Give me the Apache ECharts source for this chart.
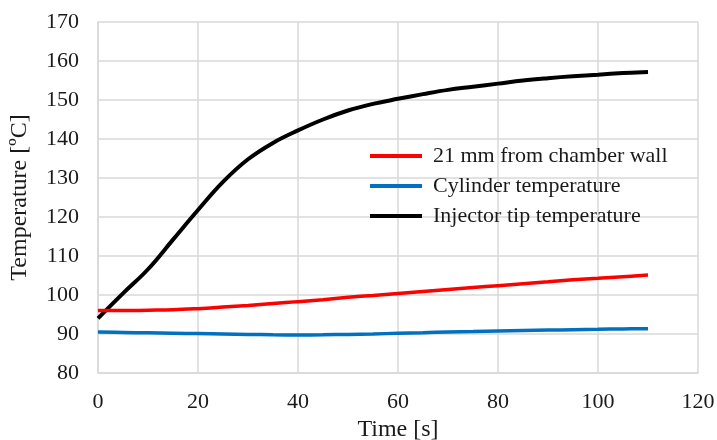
<!DOCTYPE html>
<html>
<head>
<meta charset="utf-8">
<script src="https://cdn.jsdelivr.net/npm/echarts@6/dist/echarts.min.js"></script>
<style>
html,body{margin:0;padding:0;background:#fff;}
#chart{width:717px;height:440px;}
</style>
</head>
<body>
<div id="chart"></div>
<script>
const time = [0,5,10,15,20,25,30,35,40,45,50,55,60,65,70,75,80,85,90,95,100,105,110];
const wall21 = [96,96,96.1,96.2,96.5,96.9,97.3,97.8,98.3,98.8,99.4,99.9,100.4,100.9,101.4,101.9,102.4,102.9,103.4,103.9,104.3,104.7,105.1];
const cylinder = [90.5,90.4,90.3,90.2,90.1,90.0,89.9,89.8,89.75,89.8,89.9,90.0,90.2,90.35,90.5,90.65,90.8,90.9,91.0,91.1,91.2,91.3,91.35];
const injector = [94,100.4,106.6,114.2,121.8,129.0,134.8,139.0,142.2,145,147.3,149,150.3,151.5,152.6,153.4,154.2,155,155.6,156.1,156.5,156.9,157.2];
const seriesNames = ['21 mm from chamber wall','Cylinder temperature','Injector tip temperature'];
const seriesColors = ['#ff0000','#0070c0','#000000'];
const seriesData = [wall21, cylinder, injector];

const font = '"Liberation Serif","Times New Roman",serif';
const txt = '#1a1a1a';
const chart = echarts.init(document.getElementById('chart'));
chart.setOption({
  animation:false,
  backgroundColor:'#fff',
  textStyle:{fontFamily:font},
  grid:{left:98,right:19,top:22,bottom:67,outerBoundsMode:'none',containLabel:false},
  legend:{
    orient:'vertical', left:370, top:145, padding:0,
    icon:'rect', itemWidth:52, itemHeight:4, itemGap:8,
    textStyle:{fontFamily:font,fontSize:22,color:txt,lineHeight:22,padding:[0,0,0,6]},
    data:seriesNames
  },
  xAxis:{
    type:'value', min:0, max:120, interval:20,
    name:'Time [s]', nameLocation:'middle', nameGap:42,
    nameTextStyle:{fontFamily:font,fontSize:24,color:txt},
    axisLine:{show:true,lineStyle:{color:'#d9d9d9',width:1.5}},
    axisTick:{show:false},
    axisLabel:{fontFamily:font,fontSize:22,color:txt,margin:18},
    splitLine:{show:true,lineStyle:{color:'#d9d9d9',width:1.5}}
  },
  yAxis:{
    type:'value', min:80, max:170, interval:10,
    name:'Temperature [ºC]', nameLocation:'middle', nameGap:66,
    nameTextStyle:{fontFamily:font,fontSize:24,color:txt},
    axisLine:{show:true,lineStyle:{color:'#d9d9d9',width:1.5}},
    axisTick:{show:false},
    axisLabel:{fontFamily:font,fontSize:22,color:txt,margin:19},
    splitLine:{show:true,lineStyle:{color:'#d9d9d9',width:1.5}}
  },
  series: seriesNames.map((n,i)=>({
    name:n, type:'line', smooth:0.4, symbol:'none', showSymbol:false,
    data: time.map((t,j)=>[t, seriesData[i][j]]),
    lineStyle:{color:seriesColors[i], width: i===2?4:3.5},
    itemStyle:{color:seriesColors[i]},
    z: 3-i
  }))
});
</script>
</body>
</html>
